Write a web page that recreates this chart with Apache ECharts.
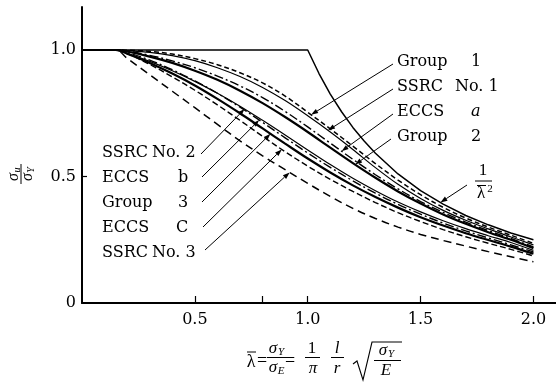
<!DOCTYPE html>
<html>
<head>
<meta charset="utf-8">
<script src="https://cdn.jsdelivr.net/npm/echarts@6/dist/echarts.min.js"></script>
<style>
html, body { margin: 0; padding: 0; background: #fff; }
#chart { width: 556px; height: 383px; }
</style>
</head>
<body>
<div id="chart"></div>
<script>
// Column strength curves: non-dimensional slenderness vs. sigma_u / sigma_Y
const lambda = [0, 0.15, 0.2, 0.3, 0.4, 0.5, 0.6, 0.7, 0.8, 0.9, 1.0, 1.1, 1.2, 1.3, 1.4, 1.5, 1.6, 1.7, 1.8, 1.9, 2.0];

const group1 = [1, 1, 0.999, 0.995, 0.984, 0.966, 0.942, 0.910, 0.870, 0.818, 0.754, 0.688, 0.620, 0.551, 0.486, 0.428, 0.378, 0.336, 0.300, 0.268, 0.236];
const ssrc1  = [1, 1, 0.998, 0.991, 0.978, 0.958, 0.930, 0.895, 0.852, 0.800, 0.740, 0.676, 0.607, 0.535, 0.469, 0.413, 0.366, 0.327, 0.293, 0.261, 0.230];
const eccsA  = [1, 1, 0.996, 0.979, 0.957, 0.930, 0.897, 0.858, 0.812, 0.757, 0.696, 0.632, 0.568, 0.507, 0.451, 0.401, 0.358, 0.320, 0.286, 0.255, 0.222];
const group2 = [1, 1, 0.994, 0.974, 0.949, 0.918, 0.882, 0.839, 0.790, 0.735, 0.676, 0.614, 0.553, 0.495, 0.441, 0.393, 0.350, 0.313, 0.280, 0.250, 0.217];
const ssrc2  = [1, 1, 0.987, 0.955, 0.918, 0.876, 0.829, 0.778, 0.722, 0.664, 0.605, 0.547, 0.493, 0.444, 0.399, 0.360, 0.325, 0.294, 0.266, 0.239, 0.208];
const eccsB  = [1, 1, 0.990, 0.960, 0.922, 0.878, 0.829, 0.774, 0.714, 0.653, 0.593, 0.536, 0.483, 0.434, 0.390, 0.351, 0.316, 0.285, 0.257, 0.230, 0.202];
const group3 = [1, 1, 0.985, 0.949, 0.907, 0.860, 0.807, 0.750, 0.690, 0.630, 0.571, 0.516, 0.465, 0.419, 0.377, 0.339, 0.306, 0.276, 0.249, 0.223, 0.195];
const eccsC  = [1, 1, 0.986, 0.943, 0.894, 0.841, 0.783, 0.722, 0.659, 0.598, 0.541, 0.489, 0.441, 0.397, 0.357, 0.322, 0.290, 0.262, 0.236, 0.212, 0.186];
const ssrc3  = [1, 1, 0.967, 0.902, 0.837, 0.772, 0.706, 0.641, 0.582, 0.527, 0.473, 0.421, 0.374, 0.334, 0.300, 0.271, 0.247, 0.225, 0.203, 0.183, 0.163];

// Euler curve 1/lambda^2 with the plateau at 1.0
const lambdaEuler = [0, 0.5, 1.0, 1.05, 1.1, 1.15, 1.2, 1.25, 1.3, 1.4, 1.5, 1.6, 1.7, 1.8, 1.9, 2.0];
const euler       = [1, 1, 1.0, 0.907, 0.826, 0.756, 0.694, 0.640, 0.592, 0.510, 0.444, 0.391, 0.346, 0.309, 0.277, 0.250];

const xLabelValues = [0.5, 1.0, 1.5, 2.0];
const xTickValues = [0.5, 0.8, 1.0, 1.5, 2.0];
const yLabelValues = [0, 0.5, 1.0];
const yTickValues = [0.5];

const FONT = 'DejaVu Serif';
const MATH = 'Liberation Serif';
const INK = '#000';

const curves = [
  { name: 'Group 1',    values: group1, width: 1.5, dash: [5, 3] },
  { name: 'SSRC No. 1', values: ssrc1,  width: 1.2, dash: 'solid' },
  { name: 'ECCS a',     values: eccsA,  width: 1.4, dash: [9, 3, 2, 3] },
  { name: 'Group 2',    values: group2, width: 2.2, dash: 'solid' },
  { name: 'SSRC No. 2', values: ssrc2,  width: 1.2, dash: 'solid' },
  { name: 'ECCS b',     values: eccsB,  width: 1.4, dash: [9, 3, 2, 3] },
  { name: 'Group 3',    values: group3, width: 2.2, dash: 'solid' },
  { name: 'ECCS c',     values: eccsC,  width: 1.4, dash: [6, 3] },
  { name: 'SSRC No. 3', values: ssrc3,  width: 1.5, dash: [8, 5] }
];

const series = curves.map(c => ({
  type: 'line',
  name: c.name,
  data: lambda.map((l, i) => [l, c.values[i]]),
  smooth: 0.35,
  symbol: 'none',
  lineStyle: { color: INK, width: c.width, type: c.dash },
  z: 2
}));
series.push({
  type: 'line',
  name: 'Euler',
  data: lambdaEuler.map((l, i) => [l, euler[i]]),
  symbol: 'none',
  lineStyle: { color: INK, width: 1.5 },
  z: 3
});

const chart = echarts.init(document.getElementById('chart'));
chart.setOption({
  animation: false,
  grid: { left: 82, right: 0, top: 7, bottom: 80 },
  xAxis: {
    type: 'value', min: 0, max: 2.1,
    axisLine: { lineStyle: { color: INK, width: 2 } },
    axisTick: { inside: true, length: 7, customValues: xTickValues, lineStyle: { color: INK, width: 1.2 } },
    axisLabel: { customValues: xLabelValues, formatter: v => v.toFixed(1), color: INK, fontFamily: FONT, fontSize: 16, margin: 9 },
    splitLine: { show: false }
  },
  yAxis: {
    type: 'value', min: 0, max: 1.17,
    axisLine: { show: true, lineStyle: { color: INK, width: 2 } },
    axisTick: { show: true, inside: true, length: 5, customValues: yTickValues, lineStyle: { color: INK, width: 1.2 } },
    axisLabel: { customValues: yLabelValues, formatter: v => (v === 0 ? '0' : v.toFixed(1)), color: INK, fontFamily: FONT, fontSize: 16, margin: 6 },
    splitLine: { show: false }
  },
  series
});

// ---- annotations ----
function valueAt(xs, ys, x) {
  for (let i = 1; i < xs.length; i++) {
    if (x <= xs[i]) {
      const t = (x - xs[i - 1]) / (xs[i] - xs[i - 1]);
      return ys[i - 1] + t * (ys[i] - ys[i - 1]);
    }
  }
  return ys[ys.length - 1];
}
function curvePoint(name, lam) {
  if (name === 'Euler') return chart.convertToPixel({ gridIndex: 0 }, [lam, valueAt(lambdaEuler, euler, lam)]);
  const c = curves.find(k => k.name === name);
  return chart.convertToPixel({ gridIndex: 0 }, [lam, valueAt(lambda, c.values, lam)]);
}
function txt(s, x, y, size, opts = {}) {
  return {
    type: 'text', x, y, z: 10,
    style: {
      text: s, fill: INK,
      font: (opts.italic ? 'italic ' : '') + size + 'px "' + (opts.family || FONT) + '"',
      textAlign: opts.align || 'left', align: opts.align || 'left',
      textVerticalAlign: 'middle', verticalAlign: 'middle'
    }
  };
}
function mth(s, x, y, size, italic) {
  return txt(s, x, y, size, { italic, align: 'center', family: MATH });
}
function seg(x1, y1, x2, y2, w = 1) {
  return { type: 'line', z: 10, shape: { x1, y1, x2, y2 }, style: { stroke: INK, lineWidth: w } };
}
function leader(from, tip) {
  const dx = tip[0] - from[0], dy = tip[1] - from[1];
  const len = Math.hypot(dx, dy), ux = dx / len, uy = dy / len;
  const L = 7, W = 2.4;
  const bx = tip[0] - ux * L, by = tip[1] - uy * L;
  return [
    seg(from[0], from[1], bx, by, 1),
    { type: 'polygon', z: 10, shape: { points: [tip, [bx - uy * W, by + ux * W], [bx + uy * W, by - ux * W]] }, style: { fill: INK } }
  ];
}

const labels = [
  { parts: [['Group', 397], ['1', 471]],          y: 62,  from: [393, 64],  curve: 'Group 1',    lam: 1.015 },
  { parts: [['SSRC', 397], ['No. 1', 455]],       y: 87,  from: [393, 89],  curve: 'SSRC No. 1', lam: 1.09 },
  { parts: [['ECCS', 397], ['a', 471, true]],     y: 112, from: [393, 114], curve: 'ECCS a',     lam: 1.15 },
  { parts: [['Group', 397], ['2', 471]],          y: 137, from: [391, 139], curve: 'Group 2',    lam: 1.21 },
  { parts: [['SSRC', 102], ['No. 2', 152]],       y: 153, from: [201, 154], curve: 'SSRC No. 2', lam: 0.72 },
  { parts: [['ECCS', 102], ['b', 178]],           y: 178, from: [202, 177], curve: 'ECCS b',     lam: 0.785 },
  { parts: [['Group', 102], ['3', 178]],          y: 203, from: [202, 202], curve: 'Group 3',    lam: 0.835 },
  { parts: [['ECCS', 102], ['C', 176]],           y: 228, from: [203, 227], curve: 'ECCS c',     lam: 0.885 },
  { parts: [['SSRC', 102], ['No. 3', 152]],       y: 253, from: [205, 250], curve: 'SSRC No. 3', lam: 0.92 }
];

const g = [];
labels.forEach(lb => {
  lb.parts.forEach(p => g.push(txt(p[0], p[1], lb.y, 16, { italic: !!p[2] })));
  g.push(...leader(lb.from, curvePoint(lb.curve, lb.lam)));
});

// 1 / lambda-bar squared
g.push(mth('1', 483, 171, 17, false));
g.push(seg(475, 181, 492, 181, 1));
g.push(mth('λ', 481, 194, 17, false));
g.push(seg(477, 185.5, 486, 185.5, 1));
g.push(mth('2', 490, 189, 11, false));
g.push(...leader([467, 185], curvePoint('Euler', 1.588)));

// y-axis name: sigma_u / sigma_Y, rotated
g.push({
  type: 'group', x: 21, y: 174, rotation: Math.PI / 2, z: 10,
  children: [
    mth('σ', -3, -7, 16, true),
    mth('u', 4, -4, 10, true),
    seg(-10, 0, 10, 0, 1),
    mth('σ', -3, 7, 16, true),
    mth('Y', 4, 10, 10, true)
  ]
});

// x-axis name: lambda-bar = sigma_Y / sigma_E = (1/pi)(l/r) sqrt(sigma_Y / E)
g.push(mth('λ', 251, 362, 18, false));
g.push(seg(247, 352, 256, 352, 1));
g.push(mth('=', 262, 361, 18, false));
g.push(mth('σ', 273, 349, 17, true));
g.push(mth('Y', 281, 352, 11, true));
g.push(seg(267, 357.5, 286, 357.5, 1));
g.push(mth('σ', 273, 368, 17, true));
g.push(mth('E', 281, 371, 11, true));
g.push(mth('=', 290, 361, 18, false));
g.push(mth('1', 312, 349, 17, false));
g.push(seg(305, 357.5, 320, 357.5, 1));
g.push(mth('π', 313, 369, 17, true));
g.push(mth('l', 337, 349, 17, true));
g.push(seg(331, 357.5, 344, 357.5, 1));
g.push(mth('r', 337, 369, 17, true));
g.push({
  type: 'polyline', z: 10,
  shape: { points: [[353, 364], [357, 361], [363, 380], [372, 342], [402, 342]] },
  style: { stroke: INK, lineWidth: 1.1, fill: null }
});
g.push(mth('σ', 383, 351, 17, true));
g.push(mth('Y', 391, 354, 11, true));
g.push(seg(374, 360.5, 401, 360.5, 1));
g.push(mth('E', 386, 371, 17, true));

chart.setOption({ graphic: { elements: g } });
</script>
</body>
</html>
